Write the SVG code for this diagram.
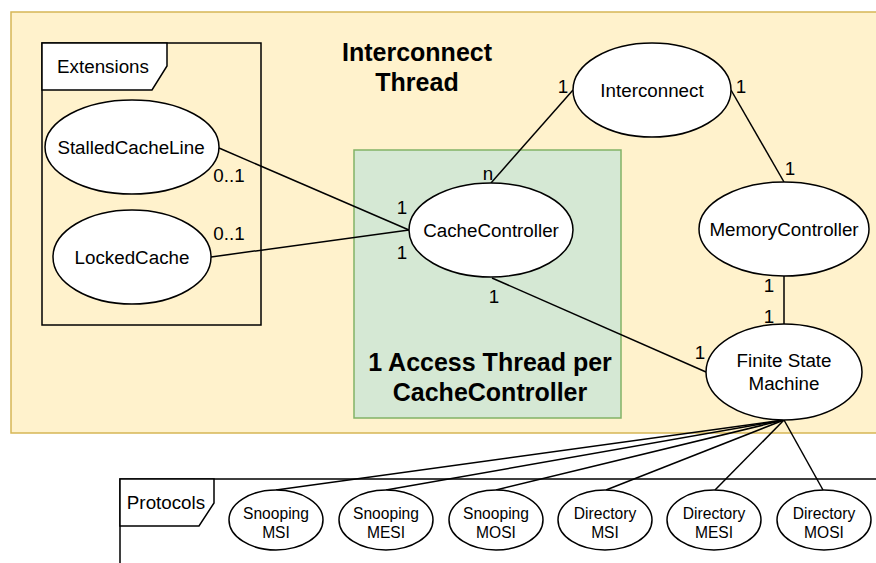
<svg xmlns="http://www.w3.org/2000/svg" width="876" height="563" viewBox="0 0 876 563">
<style>
text{font-family:"Liberation Sans",Arial,sans-serif;fill:#000;}
.n{fill:#fff;stroke:#000;stroke-width:1.5;}
.l{font-size:18.8px;text-anchor:middle;dominant-baseline:central;}
.s{font-size:15.6px;text-anchor:middle;dominant-baseline:central;}
.b{font-size:25px;font-weight:bold;text-anchor:middle;dominant-baseline:central;}
.c{stroke:#000;stroke-width:1.5;fill:none;}
.fr{fill:none;stroke:#000;stroke-width:1.5;}
</style>
<rect x="11" y="12" width="875" height="421" fill="#fff2cc" stroke="#d6b656" stroke-width="1.5"/>
<rect x="354" y="150" width="267" height="268" fill="#d5e8d4" stroke="#82b366" stroke-width="1.5"/>
<g id="interconnect-thread-label">
<text class="b" x="417" y="52">Interconnect</text>
<text class="b" x="417" y="82">Thread</text>
</g>
<g id="access-thread-label">
<text class="b" x="490" y="362">1 Access Thread per</text>
<text class="b" x="490" y="392">CacheController</text>
</g>
<g id="extensions">
<rect class="fr" x="42" y="43" width="219" height="282" fill="none"/>
<path d="M42 43 H167 V66 L152 90 H42 Z" fill="#fff" stroke="#000" stroke-width="1.5"/>
<text class="l" x="103" y="66">Extensions</text>
</g>
<g id="protocols">
<path class="fr" d="M120 563 V479 H880"/>
<path d="M120 479 H214 V503 L199 526 H120 Z" fill="#fff" stroke="#000" stroke-width="1.5"/>
<text class="l" x="166" y="502">Protocols</text>
</g>
<g id="connectors">
<line class="c" x1="219" y1="148" x2="409" y2="230"/>
<line class="c" x1="211" y1="257" x2="409" y2="230"/>
<line class="c" x1="491" y1="183" x2="573" y2="90"/>
<line class="c" x1="731" y1="90" x2="784" y2="182"/>
<line class="c" x1="784" y1="276" x2="784" y2="324"/>
<line class="c" x1="492" y1="278" x2="706" y2="372"/>
<line class="c" x1="784" y1="420" x2="276" y2="490"/>
<line class="c" x1="784" y1="420" x2="386" y2="490"/>
<line class="c" x1="784" y1="420" x2="496" y2="490"/>
<line class="c" x1="784" y1="420" x2="606" y2="490"/>
<line class="c" x1="784" y1="420" x2="715" y2="490"/>
<line class="c" x1="784" y1="420" x2="823" y2="490"/>
<text class="l" x="229" y="175">0..1</text>
<text class="l" x="229" y="233">0..1</text>
<text class="l" x="402" y="207">1</text>
<text class="l" x="402" y="252">1</text>
<text class="l" x="488" y="173">n</text>
<text class="l" x="563" y="86">1</text>
<text class="l" x="741" y="86">1</text>
<text class="l" x="790" y="168">1</text>
<text class="l" x="494" y="296">1</text>
<text class="l" x="700" y="352">1</text>
<text class="l" x="769" y="285">1</text>
<text class="l" x="769" y="316">1</text>
</g>
<g id="stalled-cache-line">
<ellipse class="n" cx="132" cy="147" rx="87" ry="47"/>
<text class="l" x="131" y="147">StalledCacheLine</text>
</g>
<g id="locked-cache">
<ellipse class="n" cx="132" cy="257" rx="79" ry="47"/>
<text class="l" x="132" y="257">LockedCache</text>
</g>
<g id="cache-controller">
<ellipse class="n" cx="491" cy="230" rx="82" ry="47"/>
<text class="l" x="491" y="230">CacheController</text>
</g>
<g id="interconnect">
<ellipse class="n" cx="652" cy="90" rx="79" ry="47"/>
<text class="l" x="652" y="90">Interconnect</text>
</g>
<g id="memory-controller">
<ellipse class="n" cx="784" cy="229" rx="85" ry="47"/>
<text class="l" x="784" y="229">MemoryController</text>
</g>
<g id="fsm">
<ellipse class="n" cx="784" cy="372" rx="78" ry="48"/>
<text class="l" x="784" y="360">Finite State</text>
<text class="l" x="784" y="383">Machine</text>
</g>
<g id="snooping-msi">
<ellipse class="n" cx="276" cy="520" rx="47" ry="30"/>
<text class="s" x="276" y="513">Snooping</text>
<text class="s" x="276" y="532">MSI</text>
</g>
<g id="snooping-mesi">
<ellipse class="n" cx="386" cy="520" rx="47" ry="30"/>
<text class="s" x="386" y="513">Snooping</text>
<text class="s" x="386" y="532">MESI</text>
</g>
<g id="snooping-mosi">
<ellipse class="n" cx="496" cy="520" rx="47" ry="30"/>
<text class="s" x="496" y="513">Snooping</text>
<text class="s" x="496" y="532">MOSI</text>
</g>
<g id="directory-msi">
<ellipse class="n" cx="605" cy="520" rx="47" ry="30"/>
<text class="s" x="605" y="513">Directory</text>
<text class="s" x="605" y="532">MSI</text>
</g>
<g id="directory-mesi">
<ellipse class="n" cx="714" cy="520" rx="47" ry="30"/>
<text class="s" x="714" y="513">Directory</text>
<text class="s" x="714" y="532">MESI</text>
</g>
<g id="directory-mosi">
<ellipse class="n" cx="824" cy="520" rx="47" ry="30"/>
<text class="s" x="824" y="513">Directory</text>
<text class="s" x="824" y="532">MOSI</text>
</g>
</svg>
